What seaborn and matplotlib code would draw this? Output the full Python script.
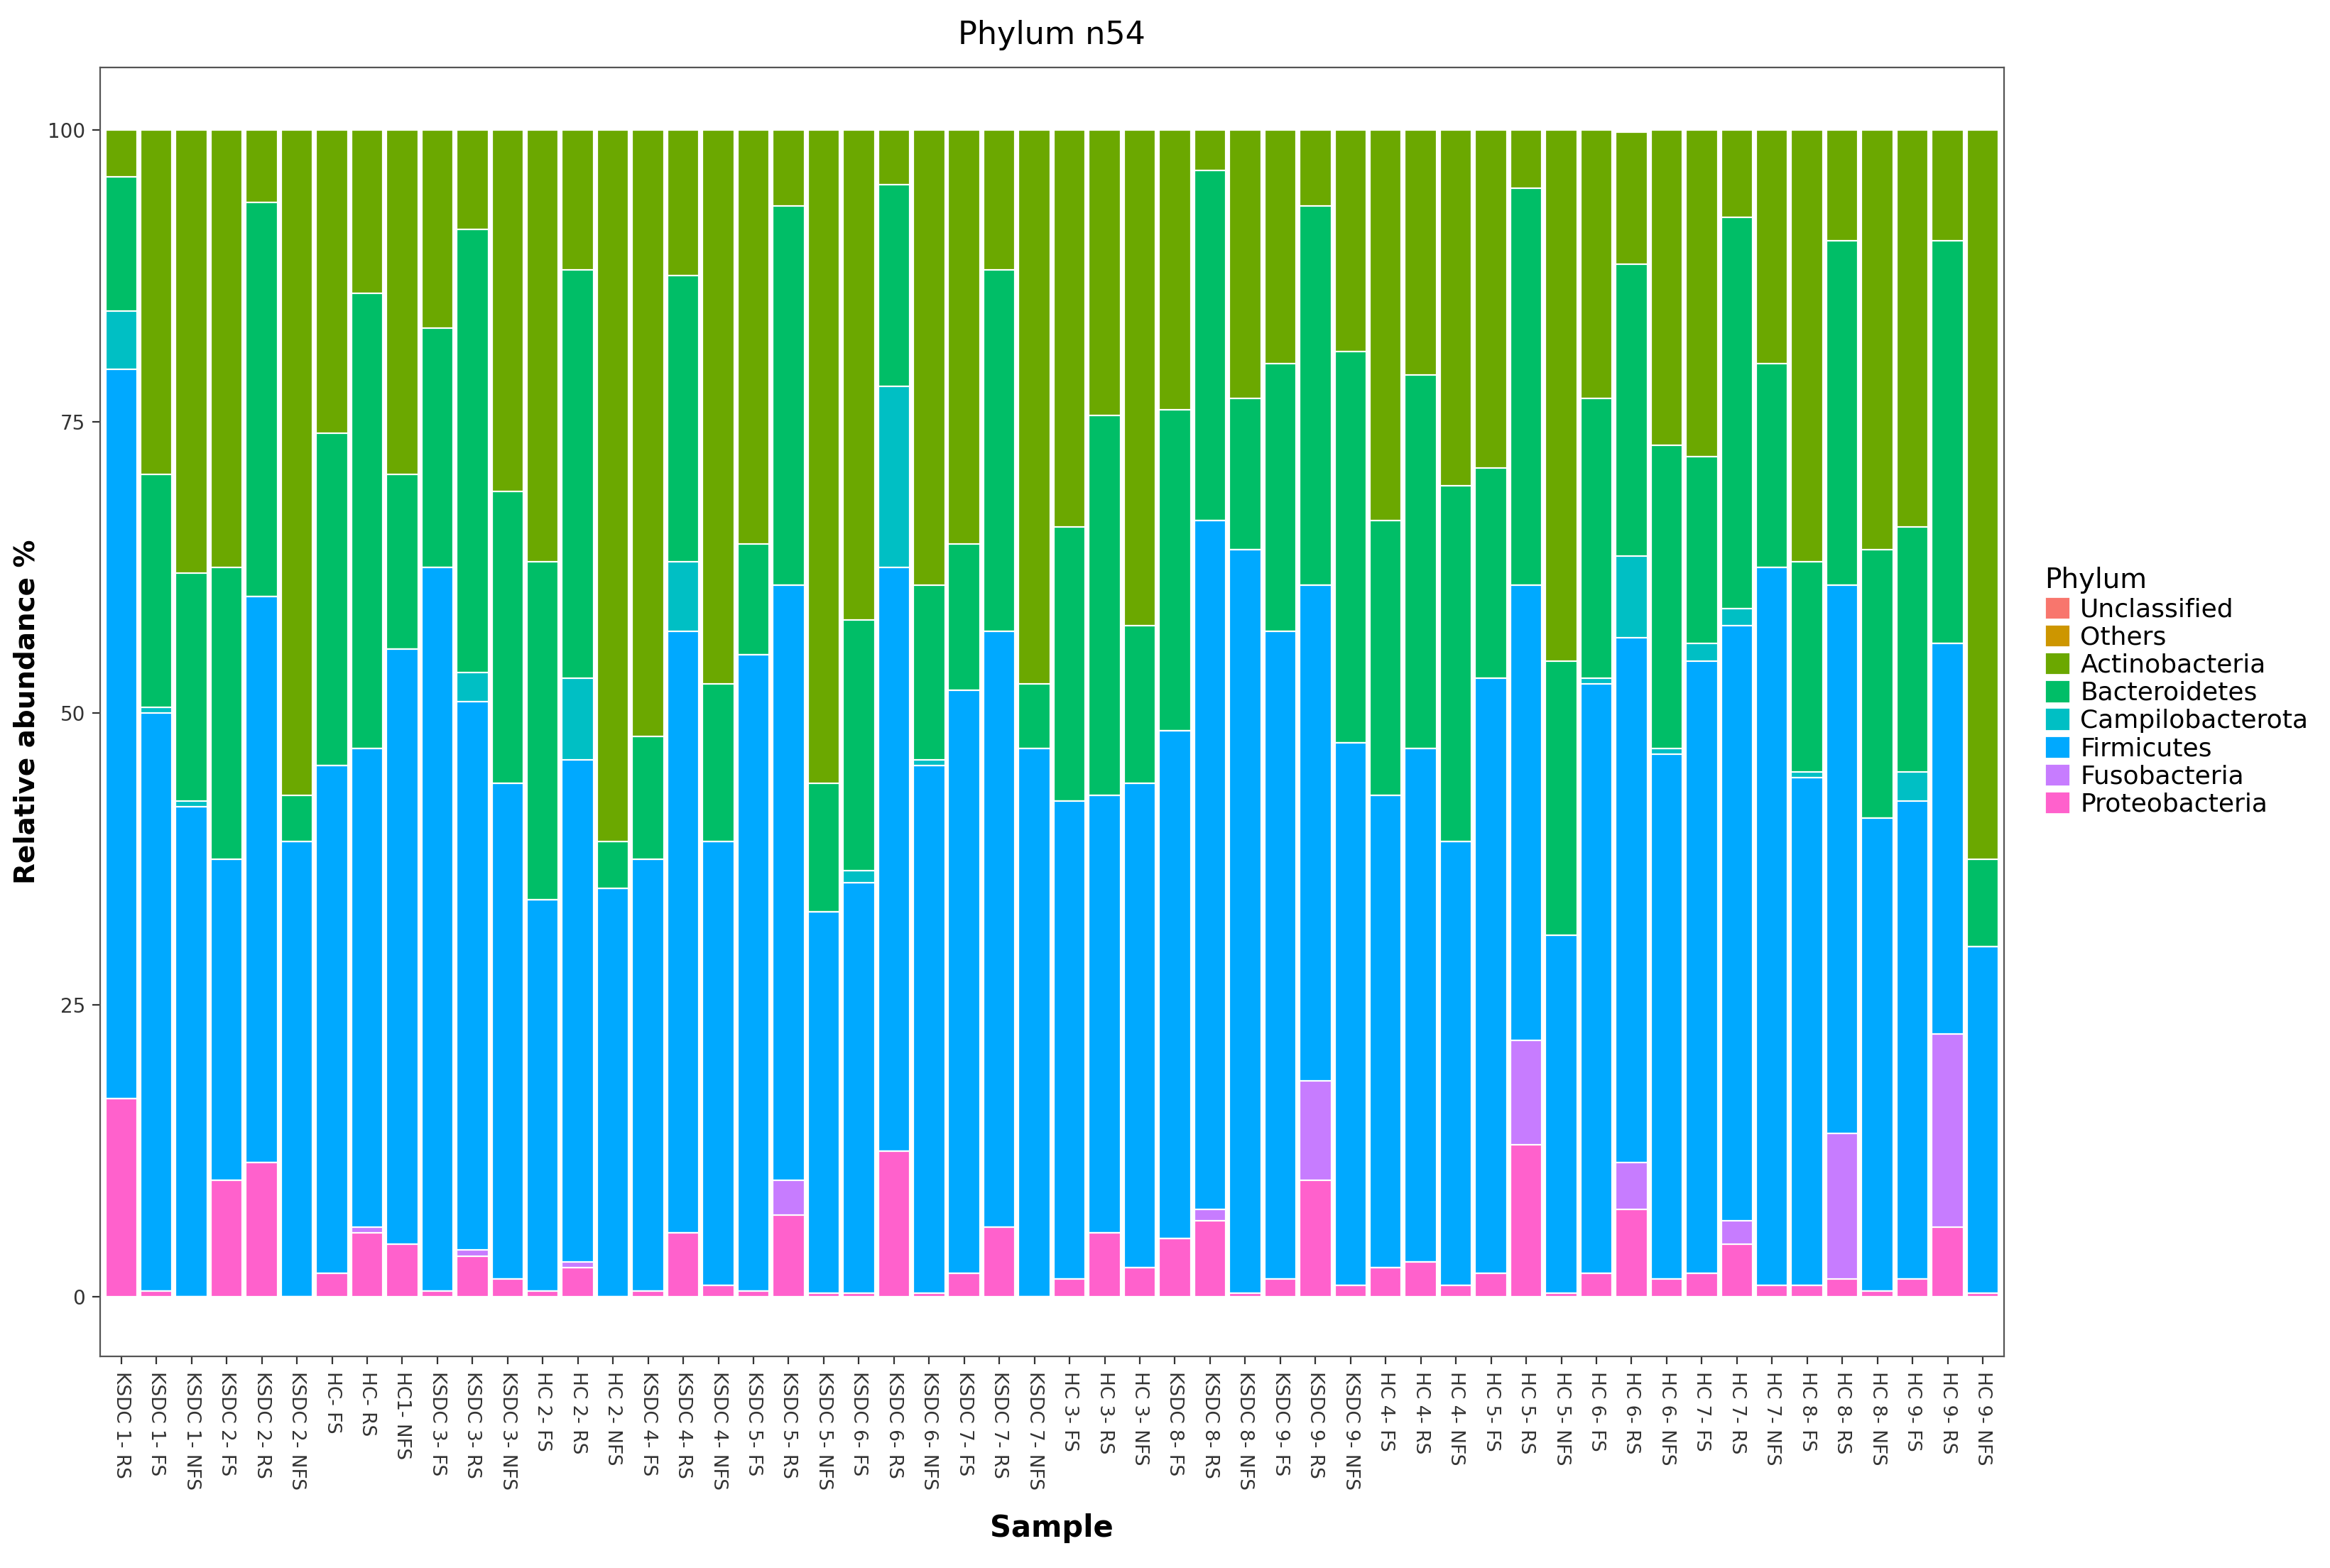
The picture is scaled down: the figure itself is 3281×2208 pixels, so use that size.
import matplotlib
matplotlib.use("Agg")
import matplotlib.pyplot as plt
import seaborn as sns
import pandas as pd

samples = ["KSDC 1- RS","KSDC 1- FS","KSDC 1- NFS","KSDC 2- FS","KSDC 2- RS","KSDC 2- NFS",
 "HC- FS","HC- RS","HC1- NFS","KSDC 3- FS","KSDC 3- RS","KSDC 3- NFS","HC 2- FS","HC 2- RS","HC 2- NFS",
 "KSDC 4- FS","KSDC 4- RS","KSDC 4- NFS","KSDC 5- FS","KSDC 5- RS","KSDC 5- NFS","KSDC 6- FS","KSDC 6- RS","KSDC 6- NFS",
 "KSDC 7- FS","KSDC 7- RS","KSDC 7- NFS","HC 3- FS","HC 3- RS","HC 3- NFS","KSDC 8- FS","KSDC 8- RS","KSDC 8- NFS",
 "KSDC 9- FS","KSDC 9- RS","KSDC 9- NFS","HC 4- FS","HC 4- RS","HC 4- NFS","HC 5- FS","HC 5- RS","HC 5- NFS",
 "HC 6- FS","HC 6- RS","HC 6- NFS","HC 7- FS","HC 7- RS","HC 7- NFS","HC 8- FS","HC 8- RS","HC 8- NFS",
 "HC 9- FS","HC 9- RS","HC 9- NFS"]

# cumulative tops of each stacked layer (%)
proteo_top = [17,0.5,0,10,11.5,0,2,5.5,4.5,0.5,3.5,1.5,0.5,2.5,0,0.5,5.5,1,0.5,7,0.3,0.3,12.5,0.3,
 2,6,0,1.5,5.5,2.5,5,6.5,0.3,1.5,10,1,2.5,3,1,2,13,0.3,2,7.5,1.5,2,4.5,1,1,1.5,0.5,1.5,6,0.3]
fuso_top = [17,0.5,0,10,11.5,0,2,6,4.5,0.5,4,1.5,0.5,3,0,0.5,5.5,1,0.5,10,0.3,0.3,12.5,0.3,
 2,6,0,1.5,5.5,2.5,5,7.5,0.3,1.5,18.5,1,2.5,3,1,2,22,0.3,2,11.5,1.5,2,6.5,1,1,14,0.5,1.5,22.5,0.3]
firm_top = [79.5,50,42,37.5,60,39,45.5,47,55.5,62.5,51,44,34,46,35,37.5,57,39,55,61,33,35.5,62.5,45.5,
 52,57,47,42.5,43,44,48.5,66.5,64,57,61,47.5,43,47,39,53,61,31,52.5,56.5,46.5,54.5,57.5,62.5,44.5,61,41,42.5,56,30]
campi_top = [84.5,50.5,42.5,37.5,60,39,45.5,47,55.5,62.5,53.5,44,34,53,35,37.5,63,39,55,61,33,36.5,78,46,
 52,57,47,42.5,43,44,48.5,66.5,64,57,61,47.5,43,47,39,53,61,31,53,63.5,47,56,59,62.5,45,61,41,45,56,30]
bact_top = [96,70.5,62,62.5,93.8,43,74,86,70.5,83,91.5,69,63,88,39,48,87.5,52.5,64.5,93.5,44,58,95.3,61,
 64.5,88,52.5,66,75.5,57.5,76,96.5,77,80,93.5,81,66.5,79,69.5,71,95,54.5,77,88.5,73,72,92.5,80,63,90.5,64,66,90.5,37.5]
total_top = [100]*43 + [99.8] + [100]*10

phyla = ["Unclassified","Others","Actinobacteria","Bacteroidetes","Campilobacterota","Firmicutes","Fusobacteria","Proteobacteria"]
colors = ["#F8766D","#CD9600","#6BA800","#00BE67","#00BFC4","#00A9FF","#C77CFF","#FF61CC"]

layers = [("Actinobacteria", total_top), ("Bacteroidetes", bact_top), ("Campilobacterota", campi_top),
          ("Firmicutes", firm_top), ("Fusobacteria", fuso_top), ("Proteobacteria", proteo_top)]
cmap = dict(zip(phyla, colors))

fig = plt.figure(figsize=(16.405, 11.04), dpi=200)
ax = fig.add_axes([0.043, 0.135, 0.817, 0.822])
for name, vals in layers:
    df = pd.DataFrame({"Sample": samples, "v": vals})
    sns.barplot(data=df, x="Sample", y="v", color=cmap[name], width=0.9,
                edgecolor="white", linewidth=0.8, ax=ax, saturation=1, order=samples)
ax.set_xlim(-0.6, len(samples) - 0.4)
ax.set_ylim(-5.1, 105.35)
ax.set_yticks([0, 25, 50, 75, 100])
ax.tick_params(axis="y", labelsize=10, colors="#333333", length=4)
ax.tick_params(axis="x", labelsize=9.5, colors="#333333", rotation=270, length=4)
for lab in ax.get_xticklabels():
    lab.set_rotation(-90)
ax.set_xlabel("Sample", fontsize=15, fontweight="bold", labelpad=12)
ax.set_ylabel("Relative abundance %", fontsize=14, fontweight="bold")
ax.set_title("Phylum n54", fontsize=16, pad=12)
ax.grid(False)
for s in ax.spines.values():
    s.set_color("#555555"); s.set_linewidth(0.8)

from matplotlib.patches import Patch
handles = [Patch(facecolor=c, edgecolor="white", label=p) for p, c in zip(phyla, colors)]
fig.legend(handles=handles, title="Phylum", loc="upper left", bbox_to_anchor=(0.873, 0.645),
           frameon=False, fontsize=13, title_fontsize=14, handlelength=1.0, handleheight=1.0,
           labelspacing=0.1, borderaxespad=0, alignment="left", handletextpad=0.4)
fig.savefig("out.png", dpi=200)
